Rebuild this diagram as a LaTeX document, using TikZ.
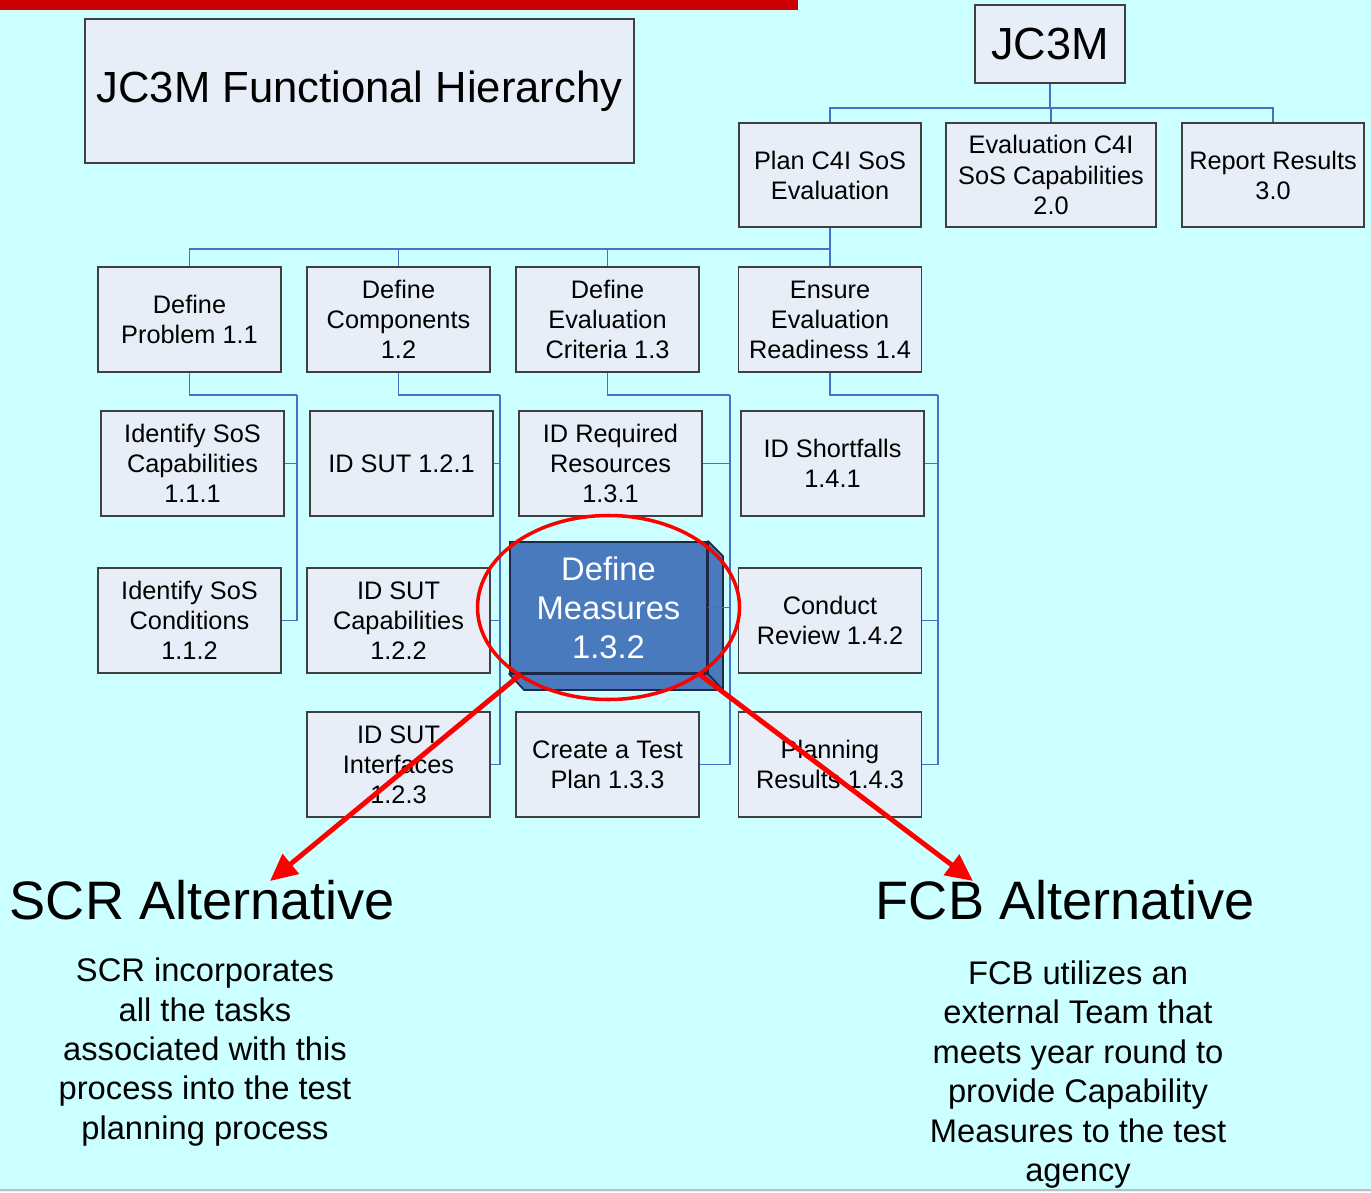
\documentclass[tikz,border=0pt]{standalone}
\usepackage{fontspec}
\setmainfont{Liberation Sans}
\usepackage{xcolor}
\usepackage{tikz}
\usetikzlibrary{arrows.meta}

\begin{document}
\begin{tikzpicture}[x=0.01cm,y=-0.01cm,
		box/.style={draw=myedge,line width=0.4pt,fill=mybox,inner sep=0pt,align=center,
			minimum width=1.83cm,minimum height=1.05cm,font=\fontsize{7.2}{8.55}\selectfont},
		link/.style={draw=myline,line width=0.45pt},
		redarrow/.style={draw=myred,line width=1.4pt,-{Triangle[length=0.27cm,width=0.25cm]}},
		headtext/.style={align=center,inner sep=0pt,font=\fontsize{15.4}{18}\selectfont},
		bodytext/.style={align=center,inner sep=0pt,font=\fontsize{9.3}{11.2}\selectfont}]
				% 颜色列表
				\definecolor{mycyan}{RGB}{204,255,255}
				\definecolor{mybox}{RGB}{232,238,248}
				\definecolor{myedge}{RGB}{64,64,64}
				\definecolor{myline}{RGB}{68,114,196}
				\definecolor{mymeas}{RGB}{74,122,190}
				\definecolor{mynavy}{RGB}{28,40,70}
				\definecolor{myred}{RGB}{255,0,0}
				\definecolor{mybar}{RGB}{204,0,0}
				% 背景
				\fill[mycyan] (0,0) rectangle (1371,1192);
				\useasboundingbox (0,0) rectangle (1371,1192);
				\fill[mybar] (0,0) rectangle (798,10);
				\draw[gray!50,line width=0.6pt] (0,1190) -- (1371,1190);
				
				% 标题
				\node[box,minimum width=5.49cm,minimum height=1.44cm,font=\fontsize{12.4}{15}\selectfont] (title) at (359.5,91) {JC3M Functional Hierarchy};
				\node[box,minimum width=1.50cm,minimum height=0.78cm,font=\fontsize{12.8}{15}\selectfont] (jc3m) at (1050,44) {JC3M};
				
				% 第一层
				\node[box,minimum width=1.82cm,minimum height=1.04cm] (plan) at (830,175) {Plan C4I SoS\\Evaluation};
				\node[box,minimum width=2.10cm,minimum height=1.04cm] (eval) at (1051,175) {Evaluation C4I\\SoS Capabilities\\2.0};
				\node[box,minimum width=1.82cm,minimum height=1.04cm] (report) at (1273,175) {Report Results\\3.0};
				
				% 第二层
				\node[box] (prob) at (189.5,319.5) {Define\\Problem 1.1};
				\node[box] (comp) at (398.5,319.5) {Define\\Components\\1.2};
				\node[box] (crit) at (607.5,319.5) {Define\\Evaluation\\Criteria 1.3};
				\node[box] (ready) at (830,319.5) {Ensure\\Evaluation\\Readiness 1.4};
				
				% 第三层
				\node[box] (c111) at (192.5,463.5) {Identify SoS\\Capabilities\\1.1.1};
				\node[box] (c112) at (189.5,620.5) {Identify SoS\\Conditions\\1.1.2};
				\node[box] (c121) at (401.5,463.5) {ID SUT 1.2.1};
				\node[box] (c122) at (398.5,620.5) {ID SUT\\Capabilities\\1.2.2};
				\node[box] (c123) at (398.5,764.5) {ID SUT\\Interfaces\\1.2.3};
				\node[box] (c131) at (610.5,463.5) {ID Required\\Resources\\1.3.1};
				\node[box] (c133) at (607.5,764.5) {Create a Test\\Plan 1.3.3};
				\node[box] (c141) at (832.5,463.5) {ID Shortfalls\\1.4.1};
				\node[box] (c142) at (830,620.5) {Conduct\\Review 1.4.2};
				\node[box] (c143) at (830,764.5) {Planning\\Results 1.4.3};
				
				% 立体方框 1.3.2
				\node[draw=mynavy,line width=0.5pt,fill=mymeas,text=white,inner sep=0pt,align=center,
					minimum width=1.97cm,minimum height=1.31cm,font=\fontsize{9.3}{11.1}\selectfont] (measures) at (608.5,607.5) {Define\\Measures\\1.3.2};
				\filldraw[fill=mymeas,draw=mynavy,line width=0.5pt,line join=round] (measures.south west) -- ++(15,16) -| ([shift={(15,15)}]measures.north east)
					-- (measures.north east) -- (measures.south east) -- cycle;
				\draw[mynavy,line width=0.5pt] (measures.south east) -- ++(15,16);
				
				% 连线
				\foreach \c in {plan,eval,report}
				\draw[link] (jc3m.south) -- ++(0,24) -| (\c.north);
				
				\foreach \c in {prob,comp,crit,ready}
				\draw[link] (plan.south) -- ++(0,21) -| (\c.north);
				
				\coordinate (s1) at (297,395);
				\coordinate (s2) at (500,395);
				\coordinate (s3) at (730,395);
				\coordinate (s4) at (938,395);
				\draw[link] (prob.south) |- (s1);
				\draw[link] (comp.south) |- (s2);
				\draw[link] (crit.south) |- (s3);
				\draw[link] (ready.south) |- (s4);
				
				\foreach \c in {c111,c112}
				\draw[link] (s1) |- (\c.east);
				\foreach \c in {c121,c122,c123}
				\draw[link] (s2) |- (\c.east);
				\foreach \c in {c131,measures,c133}
				\draw[link] (s3) |- (\c.east);
				\foreach \c in {c141,c142,c143}
				\draw[link] (s4) |- (\c.east);
				
				% 红圈和箭头
				\draw[myred,line width=1pt] (measures.center) ellipse [x radius=131,y radius=92];
				\coordinate (scrtip) at (270,881);
				\coordinate (fcbtip) at (973,881);
				\draw[redarrow] ([xshift=0.12cm]measures.south west) -- (scrtip);
				\draw[redarrow] ([xshift=-0.09cm]measures.south east) -- (fcbtip);
				
				% 下方文字
				\node[headtext] (scr) at (202.5,900) {SCR Alternative};
				\node[headtext] (fcb) at (1065.5,900) {FCB Alternative};
				\node[bodytext] (scrtext) at (205,1052) {SCR incorporates\\all the tasks\\associated with this\\process into the test\\planning process};
				\node[bodytext] (fcbtext) at (1078,1074.5) {FCB utilizes an\\external Team that\\meets year round to\\provide Capability\\Measures to the test\\agency};
				
			\end{tikzpicture}
\end{document}
